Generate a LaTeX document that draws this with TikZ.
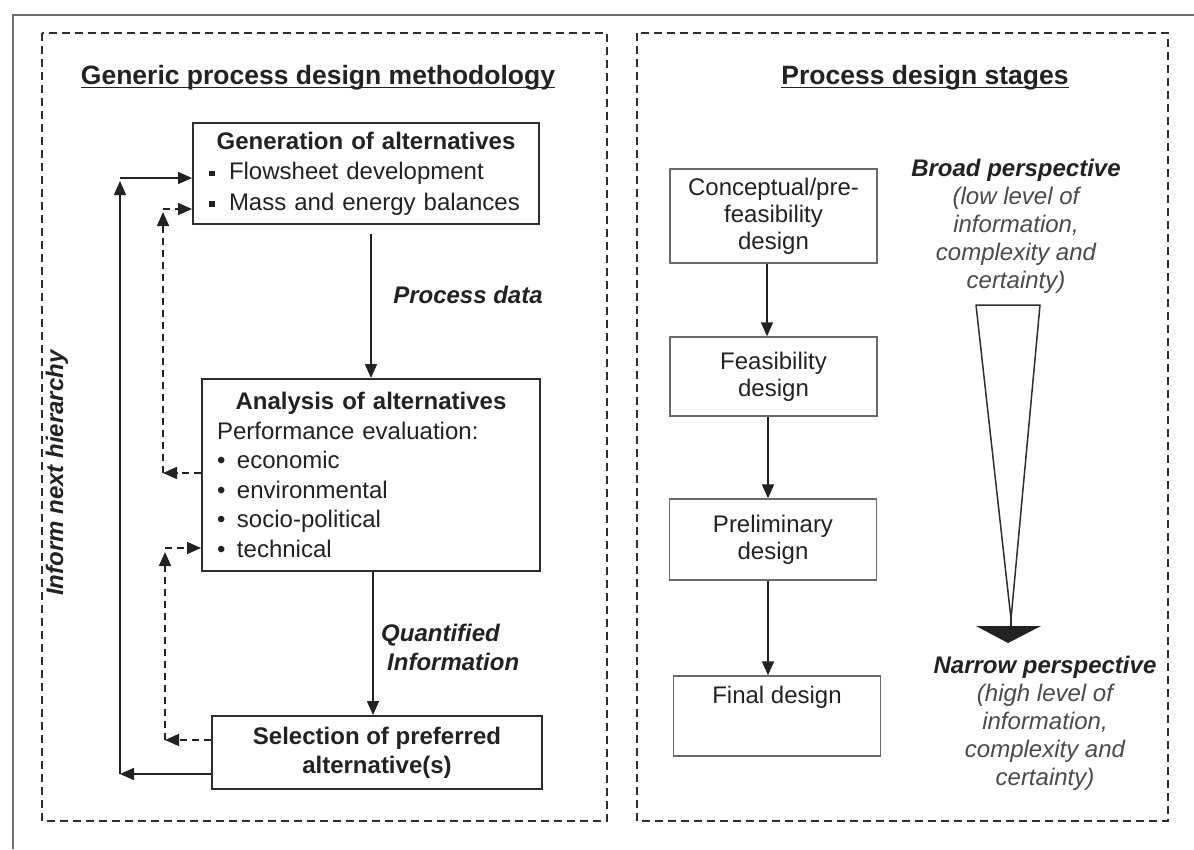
\documentclass[tikz,border=0pt]{standalone}
\usepackage{fontspec}
\setmainfont{Liberation Sans}
\usetikzlibrary{arrows.meta}

\definecolor{ink}{HTML}{222222}
\definecolor{edge}{HTML}{2E2E2E}
\definecolor{soft}{HTML}{4A4A4A}
\definecolor{stageedge}{HTML}{6A6A6A}
\definecolor{framegray}{HTML}{6E6E6E}

% bullets used inside the boxes
\newcommand{\sqbul}{\makebox[20pt][l]{\rule[3.5pt]{5.5pt}{5.5pt}}}
\newcommand{\rdbul}{\makebox[20pt][l]{\textbullet}}

\tikzset{
  paneltitle/.style={font=\fontsize{26.5}{30}\selectfont\bfseries, text=ink, inner sep=0pt},
  panel/.style={draw=edge, line width=1.4pt, dash pattern=on 8pt off 5pt},
  leftbox/.style={draw=edge, line width=2pt, text=ink, inner ysep=0pt},
  stagebox/.style={draw=stageedge, line width=1.4pt, text=ink, align=center,
                   minimum width=207pt, inner sep=0pt,
                   font=\fontsize{24}{27}\selectfont},
  flowlabel/.style={font=\fontsize{24}{29}\selectfont\bfseries\itshape, text=ink, inner sep=0pt},
  note/.style={font=\fontsize{24}{28}\selectfont\itshape, text=soft, align=center, inner sep=0pt},
  conn/.style={draw=ink, line width=1.6pt, -{Triangle[length=14pt,width=12pt]}},
  dconn/.style={conn, dash pattern=on 7pt off 5pt},
}

\begin{document}
\begin{tikzpicture}[x=1pt,y=-1pt]
\useasboundingbox (0,0) rectangle (1194,849);
\fill[white] (0,0) rectangle (1194,849);

% page frame
\draw[framegray, line width=2pt] (1194,15) -- (13,15) -- (13,849);

% the two dashed panels
\draw[panel] (42,33) rectangle (607,821);
\draw[panel] (637,33) rectangle (1168,821);

% panel headings with underline through the descenders
\node[paneltitle, anchor=base] (t1) at (318,84) {Generic process design methodology};
\node[paneltitle, anchor=base] (t2) at (925,84) {Process design stages};
\draw[ink, line width=1.6pt] ([yshift=-3.5pt]t1.base west) -- ([yshift=-3.5pt]t1.base east);
\draw[ink, line width=1.6pt] ([yshift=-3.5pt]t2.base west) -- ([yshift=-3.5pt]t2.base east);

% ---------- left panel: methodology ----------
\node[leftbox, minimum width=346pt, minimum height=101pt, inner xsep=16pt,
      text width=314pt, align=left, font=\fontsize{24}{30.5}\selectfont] (gen) at (366,173.5)
  {\makebox[314pt]{\bfseries Generation of alternatives}\\
   \sqbul Flowsheet development\\
   \sqbul Mass and energy balances};

\node[leftbox, minimum width=338pt, minimum height=192pt, inner xsep=15pt,
      text width=308pt, align=left, font=\fontsize{24}{29.5}\selectfont] (ana) at (371,475)
  {\makebox[308pt]{\bfseries Analysis of alternatives}\\
   Performance evaluation:\\
   \rdbul economic\\
   \rdbul environmental\\
   \rdbul socio-political\\
   \rdbul technical};

\node[leftbox, minimum width=330pt, minimum height=73pt, align=center,
      font=\fontsize{24}{29}\selectfont\bfseries] (sel) at (377,752.5)
  {Selection of preferred\\alternative(s)};

\node[flowlabel] (pd) at (468,295) {Process data};
\node[flowlabel, align=left, anchor=west] (qi) at (381,647) {Quantified\\\hspace*{6pt}Information};
\node[flowlabel, rotate=90] (inh) at (57,473) {Inform next hierarchy};

% main downward flow
\draw[conn, shorten <=9pt] (ana.north |- gen.south) -- (ana.north);
\draw[conn] ([xshift=2pt]ana.south) -- ([xshift=2pt]ana.south |- sel.north);

% solid feedback loop: selection back to generation
\coordinate (sA) at (120,774);
\coordinate (sB) at (120,178);
\draw[conn] (sel.west |- sA) -- (sA);
\draw[conn] (sA) -- ([yshift=-3pt]sB);
\draw[conn] (sB) -- (gen.west |- sB);

% dashed loop: analysis back to generation
\coordinate (dA) at (163,473);
\coordinate (dB) at (163,209);
\draw[dconn] (ana.west |- dA) -- (dA);
\draw[dconn] (dA) -- ([yshift=-3pt]dB);
\draw[dconn] (dB) -- (gen.west |- dB);

% dashed loop: selection back to analysis
\coordinate (dC) at (165,740);
\coordinate (dD) at (165,548);
\draw[dconn] (sel.west |- dC) -- (dC);
\draw[dconn] (dC) -- ([yshift=-4pt]dD);
\draw[dconn] (dD) -- (ana.west |- dD);

% ---------- right panel: design stages ----------
\node[stagebox, minimum height=94pt] (con) at (773.5,216) {Conceptual/pre-\\feasibility\\design};
\node[stagebox, minimum height=79pt] (fea) at (773.5,376.5) {Feasibility\\design};
\node[stagebox, minimum height=81pt] (pre) at (773,539.5) {Preliminary\\design};
\node[stagebox, minimum height=80pt, text height=17pt, text depth=43pt] (fin) at (777,716) {Final design};

\draw[conn] ([xshift=-6.5pt]con.south) -- ([xshift=-6.5pt]con.south |- fea.north);
\draw[conn] ([xshift=-5.5pt]fea.south) -- ([xshift=-5.5pt]fea.south |- pre.north);
\draw[conn] ([xshift=-5pt]pre.south) -- ([xshift=-5pt]pre.south |- fin.north);

\node[note] (broad) at (1016,226)
  {{\bfseries\color{ink}Broad perspective}\\(low level of\\information,\\complexity and\\certainty)};
\node[note] (narrow) at (1045,723)
  {{\bfseries\color{ink}Narrow perspective}\\(high level of\\information,\\complexity and\\certainty)};

% narrowing wedge ending in a wide arrow head
\draw[edge, line width=1.5pt, line join=round] (976,305) -- (1040,305) -- (1011,619) -- cycle;
\draw[edge, line width=1.5pt] (1011,619) -- (1011,627);
\fill[ink] (976,626) -- (1041,626) -- (1008,643) -- cycle;
\end{tikzpicture}
\end{document}
